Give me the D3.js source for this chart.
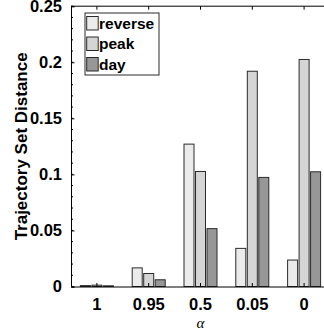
<!DOCTYPE html>
<html>
<head>
<meta charset="utf-8">
<script src="https://cdn.jsdelivr.net/npm/d3@7"></script>
<style>
  body { margin: 0; background: #fff; }
  text { font-family: "Liberation Sans", Arial, sans-serif; }
</style>
</head>
<body>
<div id="chart"></div>
<script>
// data
const categories = ["1", "0.95", "0.5", "0.05", "0"];
const series = ["reverse", "peak", "day"];
const reverse = [0.0008, 0.0166, 0.127, 0.034, 0.0236];
const peak = [0.0012, 0.0116, 0.1026, 0.192, 0.2025];
const day = [0.0006, 0.006, 0.0516, 0.0973, 0.1023];
const yTicks = [0, 0.05, 0.1, 0.15, 0.2, 0.25];
const yMinor = d3.range(0, 26).map(i => i / 100);

const colors = { reverse: "#ebebeb", peak: "#d5d5d5", day: "#979797" };
const values = { reverse, peak, day };

const width = 324, height = 336;
const margin = { left: 71, top: 6.2, bottom: 49.5 };
const step = 51.8;

const svg = d3.select("#chart")
    .append("svg")
    .attr("width", width)
    .attr("height", height);

// scales
const x = d3.scaleBand()
    .domain(categories)
    .range([margin.left, margin.left + step * categories.length])
    .padding(0);
const xSub = d3.scaleBand()
    .domain(series)
    .range([-16.5, 16.5])
    .paddingInner(0.13);
const y = d3.scaleLinear()
    .domain([0, 0.25])
    .range([height - margin.bottom, margin.top]);

const plotRight = margin.left + step * categories.length;

// bars
series.forEach(s => {
    svg.append("g").selectAll("rect")
        .data(categories.map((c, i) => ({ c, v: values[s][i] })))
        .enter()
        .append("rect")
        .attr("x", d => x(d.c) + x.bandwidth() / 2 + xSub(s))
        .attr("width", xSub.bandwidth())
        .attr("y", d => y(d.v))
        .attr("height", d => y(0) - y(d.v))
        .attr("fill", colors[s])
        .attr("stroke", "#2a2a2a")
        .attr("stroke-width", 1);
});

// box (top line)
svg.append("line")
    .attr("x1", margin.left).attr("x2", plotRight)
    .attr("y1", y(0.25)).attr("y2", y(0.25))
    .attr("stroke", "#000");

// minor y ticks
svg.append("g").selectAll("line")
    .data(yMinor)
    .enter()
    .append("line")
    .attr("x1", margin.left).attr("x2", margin.left + 2)
    .attr("y1", d => y(d)).attr("y2", d => y(d))
    .attr("stroke", "#000");

// y axis
const yAxis = svg.append("g")
    .attr("transform", `translate(${margin.left},0)`)
    .call(d3.axisLeft(y).tickValues(yTicks).tickSize(-3.5).tickPadding(9)
        .tickFormat(d => String(d)));
yAxis.select(".domain").attr("stroke", "#000");
yAxis.selectAll("text")
    .attr("font-size", 16.5)
    .attr("font-weight", "bold")
    .attr("fill", "#000");

// x axis (bottom)
const xAxis = svg.append("g")
    .attr("transform", `translate(0,${y(0)})`)
    .call(d3.axisBottom(x).tickSize(-3.5).tickPadding(11.5));
xAxis.select(".domain").attr("stroke", "#000");
xAxis.selectAll("text")
    .attr("font-size", 16.5)
    .attr("font-weight", "bold")
    .attr("fill", "#000");

// top ticks
svg.append("g").selectAll("line")
    .data(categories)
    .enter()
    .append("line")
    .attr("x1", d => x(d) + x.bandwidth() / 2)
    .attr("x2", d => x(d) + x.bandwidth() / 2)
    .attr("y1", y(0.25)).attr("y2", y(0.25) + 3.5)
    .attr("stroke", "#000");

// axis labels
svg.append("text")
    .attr("transform", `translate(26.5,${(y(0) + y(0.25)) / 2}) rotate(-90)`)
    .attr("text-anchor", "middle")
    .attr("font-size", 17)
    .attr("font-weight", "bold")
    .text("Trajectory Set Distance");

svg.append("text")
    .attr("x", x("0.5") + x.bandwidth() / 2)
    .attr("y", 328)
    .attr("text-anchor", "middle")
    .attr("font-family", "'Liberation Serif', 'DejaVu Serif', serif")
    .style("font-family", "'Liberation Serif', serif")
    .attr("font-style", "italic")
    .attr("font-size", 15)
    .text("α");

// legend
const legend = svg.append("g").attr("transform", "translate(85,13)");
legend.append("rect")
    .attr("width", 74).attr("height", 62)
    .attr("fill", "#fff")
    .attr("stroke", "#2a2a2a");
series.forEach((s, i) => {
    legend.append("rect")
        .attr("x", 1.7).attr("y", 3.5 + i * 20.5)
        .attr("width", 11.5).attr("height", 13.5)
        .attr("fill", colors[s])
        .attr("stroke", "#2a2a2a");
    legend.append("text")
        .attr("x", 14).attr("y", 15.5 + i * 20.5)
        .attr("font-size", 15.5)
        .attr("font-weight", "bold")
        .text(s);
});
</script>
</body>
</html>
